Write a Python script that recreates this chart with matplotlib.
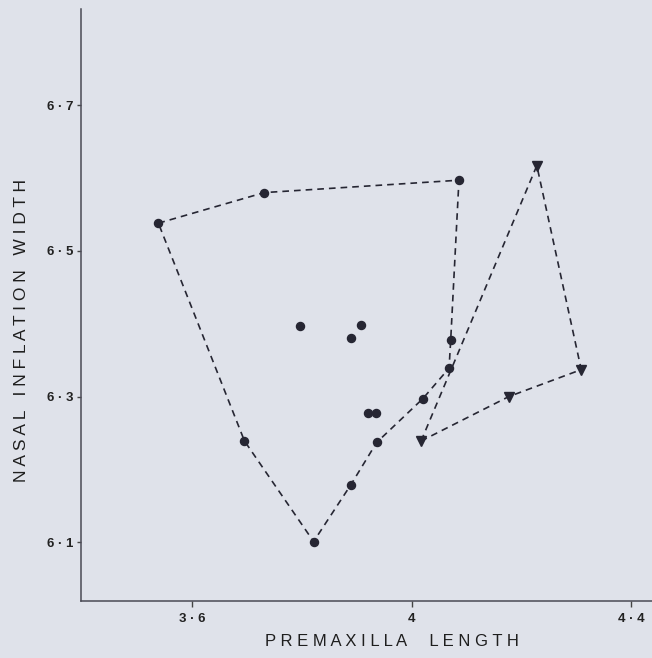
import matplotlib
matplotlib.use("Agg")
import matplotlib.pyplot as plt

# Circle group (premaxilla length, nasal inflation width)
circle_x = [3.538, 3.731, 4.086, 3.796, 3.908, 3.889, 4.071, 4.068, 4.020,
            3.920, 3.935, 3.695, 3.936, 3.889, 3.821]
circle_y = [6.538, 6.580, 6.597, 6.397, 6.398, 6.380, 6.378, 6.339, 6.297,
            6.278, 6.278, 6.239, 6.237, 6.179, 6.101]
circle_hull = [0, 1, 2, 6, 7, 8, 12, 13, 14, 11, 0]

# Triangle group
tri_x = [4.228, 4.309, 4.177, 4.017]
tri_y = [6.617, 6.337, 6.300, 6.239]
tri_hull = [3, 0, 1, 2, 3]

x_ticks = [3.6, 4.0, 4.4]
x_ticklabels = ["3 \u00b7 6", "4", "4 \u00b7 4"]
y_ticks = [6.1, 6.3, 6.5, 6.7]
y_ticklabels = ["6 \u00b7 1", "6 \u00b7 3", "6 \u00b7 5", "6 \u00b7 7"]

bg = "#dfe2ea"
ink = "#262633"

fig = plt.figure(figsize=(6.52, 6.58), dpi=100, facecolor=bg)
ax = fig.add_axes([80.5 / 652, 57 / 658, (652 - 80.5) / 652, 592 / 658])
ax.set_facecolor(bg)

ax.plot([circle_x[i] for i in circle_hull], [circle_y[i] for i in circle_hull],
        linestyle=(0, (4, 3)), color=ink, lw=1.2, zorder=2)
ax.plot([tri_x[i] for i in tri_hull], [tri_y[i] for i in tri_hull],
        linestyle=(0, (4, 3)), color=ink, lw=1.2, zorder=2)
ax.plot(circle_x, circle_y, 'o', color=ink, markersize=5.8, zorder=3)
ax.plot(tri_x, tri_y, 'v', color=ink, markersize=6.5, zorder=3)

ax.set_xlim(3.396, 4.438)
ax.set_ylim(6.0194, 6.832)

for s in ["top", "right"]:
    ax.spines[s].set_visible(False)
for s in ["left", "bottom"]:
    ax.spines[s].set_color("#4a4a55")
    ax.spines[s].set_linewidth(1.1)

ax.set_xticks(x_ticks)
ax.set_xticklabels(x_ticklabels, fontfamily="Liberation Sans", fontweight="bold",
                   fontsize=9.5)
ax.set_yticks(y_ticks)
ax.set_yticklabels(y_ticklabels, fontfamily="Liberation Sans", fontweight="bold",
                   fontsize=9.5)
ax.tick_params(axis="x", direction="out", length=4.5, width=1.0, pad=4, colors="#444")
ax.tick_params(axis="y", direction="out", length=3, width=1.0, pad=2, colors="#444")
for lab in ax.get_xticklabels() + ax.get_yticklabels():
    lab.set_color("#222")

def spaced(t, gap="   "):
    return gap.join(" ".join(w) for w in t.split(" "))

fig.text(391.8 / 652, 1 - 642 / 658, spaced("PREMAXILLA LENGTH", "     "),
         ha="center", va="center", fontfamily="Liberation Sans", fontsize=12,
         color="#1e1e1e")
fig.text(22 / 652, 1 - 331 / 658, spaced("NASAL INFLATION WIDTH"),
         ha="center", va="center", rotation=90, fontfamily="Liberation Sans",
         fontsize=12.5, color="#1e1e1e")

fig.savefig("out.png", dpi=100, facecolor=bg)
